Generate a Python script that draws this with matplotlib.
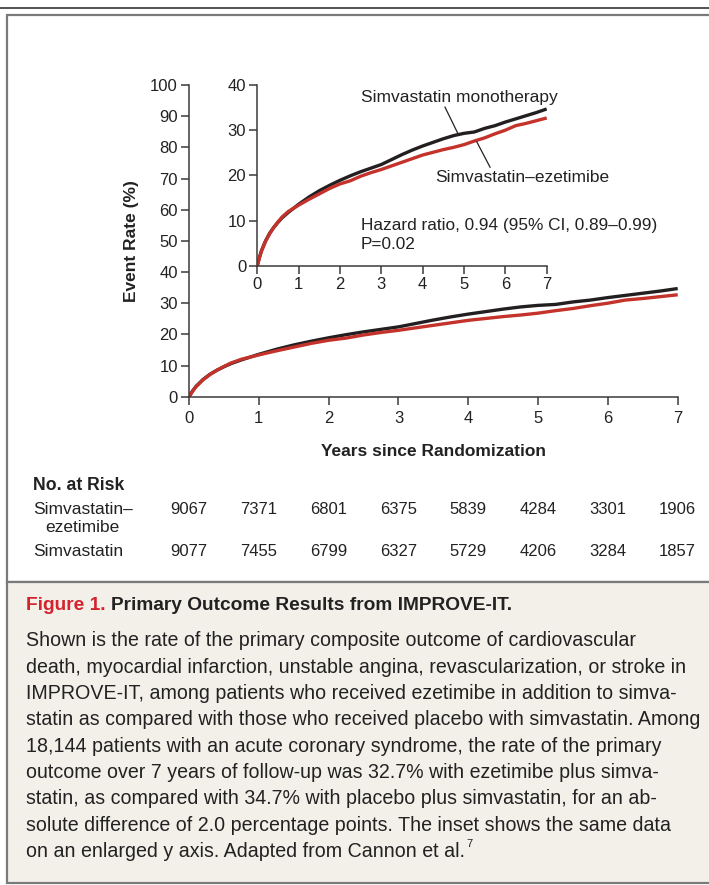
import matplotlib
matplotlib.use("Agg")
import matplotlib.pyplot as plt
import matplotlib.patches as patches
import matplotlib.transforms as mtransforms
from matplotlib import font_manager

_names = {f.name for f in font_manager.fontManager.ttflist}
FONT = 'Liberation Sans Narrow' if 'Liberation Sans Narrow' in _names else 'Liberation Sans'
plt.rcParams['font.family'] = [FONT, 'DejaVu Sans']

# cumulative event rate (%)
years = [0, 0.05, 0.1, 0.2, 0.3, 0.4, 0.5, 0.6, 0.75, 1, 1.25, 1.5, 1.75, 2, 2.25, 2.5, 2.75,
         3, 3.25, 3.5, 3.75, 4, 4.25, 4.5, 4.75, 5, 5.25, 5.5, 5.75, 6, 6.25, 6.5, 6.75, 7]
mono = [0, 1.8, 3.3, 5.5, 7.2, 8.5, 9.6, 10.6, 11.8, 13.6, 15.2, 16.6, 17.8, 18.9, 19.9, 20.8, 21.6,
        22.4, 23.5, 24.6, 25.6, 26.5, 27.3, 28.1, 28.8, 29.3, 29.6, 30.4, 31.0, 31.8, 32.5, 33.2, 33.9, 34.7]
combo = [0, 1.7, 3.2, 5.4, 7.1, 8.5, 9.7, 10.8, 12.0, 13.4, 14.7, 15.9, 17.1, 18.1, 18.8, 19.8, 20.6,
         21.3, 22.1, 22.9, 23.7, 24.5, 25.1, 25.7, 26.2, 26.8, 27.6, 28.3, 29.2, 30.0, 31.0, 31.5, 32.1, 32.7]

risk_years = [0, 1, 2, 3, 4, 5, 6, 7]
risk_combo = [9067, 7371, 6801, 6375, 5839, 4284, 3301, 1906]
risk_mono = [9077, 7455, 6799, 6327, 5729, 4206, 3284, 1857]

caption_title = "Figure 1."
caption_head = "Primary Outcome Results from IMPROVE-IT."
caption_lines = [
    "Shown is the rate of the primary composite outcome of cardiovascular",
    "death, myocardial infarction, unstable angina, revascularization, or stroke in",
    "IMPROVE-IT, among patients who received ezetimibe in addition to simva-",
    "statin as compared with those who received placebo with simvastatin. Among",
    "18,144 patients with an acute coronary syndrome, the rate of the primary",
    "outcome over 7 years of follow-up was 32.7% with ezetimibe plus simva-",
    "statin, as compared with 34.7% with placebo plus simvastatin, for an ab-",
    "solute difference of 2.0 percentage points. The inset shows the same data",
    "on an enlarged y axis. Adapted from Cannon et al.",
]

BLACK = '#231f20'
RED = '#c4332b'
AXC = '#3a3a3a'
TXT = '#222222'
W, H = 709, 885

fig = plt.figure(figsize=(W / 100, H / 100), dpi=100)


def fx(px):
    return px / W


def fy(py):
    return 1 - py / H


def style(ax, xt, yt, size, xpad):
    for s in ['top', 'right']:
        ax.spines[s].set_visible(False)
    for s in ['left', 'bottom']:
        ax.spines[s].set_color(AXC)
        ax.spines[s].set_linewidth(1.1)
    ax.set_xticks(xt)
    ax.set_yticks(yt)
    ax.tick_params(direction='out', length=6, width=1.1, color=AXC,
                   labelsize=size, labelcolor=TXT, pad=2)
    ax.tick_params(axis='x', pad=xpad)
    ax.patch.set_alpha(0)


# frame
fig.add_artist(plt.Line2D([0, 1], [fy(7.5), fy(7.5)], color=TXT, lw=1.1, zorder=-2))
fig.add_artist(patches.Rectangle((fx(7.5), fy(582)), 1.1, fy(14.5) - fy(582),
                                 transform=fig.transFigure, facecolor='white',
                                 edgecolor='#7a7a7a', lw=1.6, zorder=-2))
fig.add_artist(patches.Rectangle((fx(7.5), fy(883)), 1.1, fy(582) - fy(883),
                                 transform=fig.transFigure, facecolor='#f3f0ea',
                                 edgecolor='#7a7a7a', lw=1.6, zorder=-2))

# main plot
ax = fig.add_axes([fx(189), fy(396.7), fx(677.7) - fx(189), fy(85) - fy(396.7)])
ax.plot(years, mono, color=BLACK, lw=2.4, solid_capstyle='butt')
ax.plot(years, combo, color=RED, lw=2.4, solid_capstyle='butt')
ax.set_xlim(0, 7)
ax.set_ylim(0, 100)
style(ax, range(0, 8), range(0, 101, 10), 12, 4)
ax.set_xlabel('Years since Randomization', fontsize=12.5, fontweight='bold', labelpad=13, color=TXT)
ax.set_ylabel('Event Rate (%)', fontsize=12.5, fontweight='bold', labelpad=8, color=TXT)

# inset
ai = fig.add_axes([fx(257.3), fy(265.7), fx(546.7) - fx(257.3), fy(85) - fy(265.7)])
ai.plot(years, mono, color=BLACK, lw=2.4, solid_capstyle='butt')
ai.plot(years, combo, color=RED, lw=2.4, solid_capstyle='butt')
ai.set_xlim(0, 7)
ai.set_ylim(0, 40)
style(ai, range(0, 8), range(0, 41, 10), 12, 2)
ai.text(4.88, 37.3, 'Simvastatin monotherapy', fontsize=12.5, ha='center', va='center', color=TXT)
ai.plot([4.54, 4.85], [35.1, 29.3], color=TXT, lw=0.9)
ai.text(6.4, 19.6, 'Simvastatin\u2013ezetimibe', fontsize=12.5, ha='center', va='center', color=TXT)
ai.plot([5.31, 5.63], [27.4, 21.8], color=TXT, lw=0.9)
ai.text(2.51, 9.0, 'Hazard ratio, 0.94 (95% CI, 0.89\u20130.99)', fontsize=12.4, ha='left', va='center', color=TXT)
ai.text(2.51, 4.8, 'P=0.02', fontsize=12.4, ha='left', va='center', color=TXT)

# numbers at risk
tr = mtransforms.blended_transform_factory(ax.transData, fig.transFigure)
fig.text(fx(33), fy(486), 'No. at Risk', fontsize=12.7, fontweight='bold', va='center', color=TXT)
fig.text(fx(33), fy(509), 'Simvastatin\u2013', fontsize=12.5, va='center', color=TXT)
fig.text(fx(45), fy(528), 'ezetimibe', fontsize=12.5, va='center', color=TXT)
fig.text(fx(33), fy(551), 'Simvastatin', fontsize=12.5, va='center', color=TXT)
for x, a, b in zip(risk_years, risk_combo, risk_mono):
    ax.text(x, fy(509), str(a), transform=tr, fontsize=12, ha='center', va='center', color=TXT)
    ax.text(x, fy(551), str(b), transform=tr, fontsize=12, ha='center', va='center', color=TXT)

# caption
r = fig.canvas.get_renderer()
t1 = fig.text(fx(26), fy(605), caption_title, fontsize=13.8, fontweight='bold', color='#d2232e', va='center')
bb = t1.get_window_extent(r)
fig.text(fx(bb.x1 + 5), fy(605), caption_head, fontsize=13.8, fontweight='bold', color=TXT, va='center')
last = None
for i, line in enumerate(caption_lines):
    last = fig.text(fx(26), fy(641 + 26.3 * i), line, fontsize=14.1, color=TXT, va='center')
bb = last.get_window_extent(r)
fig.text(fx(bb.x1 + 1), fy(641 + 26.3 * 8 - 7), '7', fontsize=8, color=TXT, va='center')

fig.savefig('out.png', dpi=100)
